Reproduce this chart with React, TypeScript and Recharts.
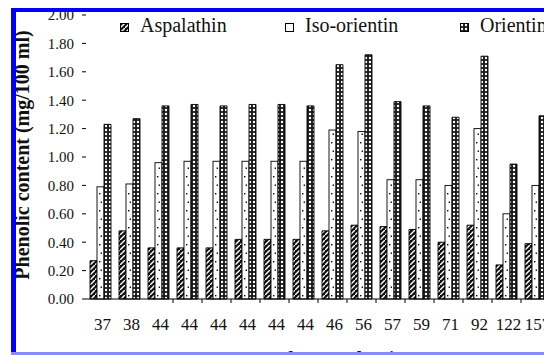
import React from "react";
import { Bar, BarChart, Label, Legend, XAxis, YAxis } from "recharts";

// values (mg/100 ml)
const days = ["37", "38", "44", "44", "44", "44", "44", "44", "46", "56", "57", "59", "71", "92", "122", "157"];
const aspalathin = [0.27, 0.48, 0.36, 0.36, 0.36, 0.42, 0.42, 0.42, 0.48, 0.52, 0.51, 0.49, 0.4, 0.52, 0.24, 0.39];
const isoOrientin = [0.79, 0.81, 0.96, 0.97, 0.97, 0.97, 0.97, 0.97, 1.19, 1.18, 0.84, 0.84, 0.8, 1.2, 0.6, 0.8];
const orientin = [1.23, 1.27, 1.36, 1.37, 1.36, 1.37, 1.37, 1.36, 1.65, 1.72, 1.39, 1.36, 1.28, 1.71, 0.95, 1.29];
const yTicks = [0, 0.2, 0.4, 0.6, 0.8, 1.0, 1.2, 1.4, 1.6, 1.8, 2.0];

const data = days.map((day, i) => ({
  day,
  aspalathin: aspalathin[i],
  isoOrientin: isoOrientin[i],
  orientin: orientin[i],
}));

const FONT = "Liberation Serif, DejaVu Serif, serif";
const W = 560;
const H = 375;
const Y_AXIS_W = 86;
const RIGHT = 10;
const band = (W - Y_AXIS_W - RIGHT) / days.length;

const swatch: Record<string, string> = {
  aspalathin: "url(#aspHatch)",
  isoOrientin: "#fff",
  orientin: "url(#oriCheck)",
};
const legendWidths = [165, 175, 120];

const IsoBar = (props: any) => {
  const { x, y, width, height } = props;
  const dots = [];
  let k = 0;
  for (let d = 4; d < height - 2; d += 8.5, k++) {
    dots.push(
      <rect key={k} x={x + width / 2 - 0.7 + (k % 2 ? 0.8 : -0.8)} y={y + height - d} width={1.4} height={1.4} fill="#000" />
    );
  }
  return (
    <g>
      <rect x={x} y={y} width={width} height={height} fill="#fff" stroke="#000" strokeWidth={0.9} />
      {dots}
    </g>
  );
};

const DayTick = (props: any) => {
  const { x, y, payload, index } = props;
  return (
    <g>
      <text x={x + 2} y={y + 27} textAnchor="middle" fontSize={17} fontFamily={FONT} fill="#111">
        {payload.value}
      </text>
      {index >= 2 && index < days.length - 1 && (
        <line x1={x + band / 2} x2={x + band / 2} y1={y - 4} y2={y} stroke="#000" />
      )}
    </g>
  );
};

const LegendContent = (props: any) => {
  const { payload } = props;
  return (
    <div style={{ display: "flex", fontFamily: FONT, fontSize: 20, color: "#111", whiteSpace: "nowrap" }}>
      {(payload || []).map((entry: any, i: number) => (
        <div key={entry.dataKey} style={{ width: legendWidths[i], display: "flex", alignItems: "baseline" }}>
          <svg width={9} height={9} style={{ marginRight: 11 }}>
            <rect x={0.5} y={0.5} width={8} height={8} fill={swatch[entry.dataKey]} stroke="#000" />
          </svg>
          <span>{entry.value}</span>
        </div>
      ))}
    </div>
  );
};

export default function App() {
  return (
    <div style={{ position: "absolute", left: 0, top: 0, width: 544, height: 355, overflow: "hidden", background: "#fff", fontFamily: FONT }}>
      <svg width={0} height={0} style={{ position: "absolute" }}>
        <defs>
          <pattern id="aspHatch" width={5} height={5} patternUnits="userSpaceOnUse">
            <rect width={5} height={5} fill="#111" />
            <path d="M-1,6 L6,-1" stroke="#fff" strokeWidth={1.4} />
          </pattern>
          <pattern id="oriCheck" width={4} height={4} patternUnits="userSpaceOnUse">
            <rect width={4} height={4} fill="#1a1a1a" />
            <circle cx={2} cy={2} r={1.2} fill="#fff" />
          </pattern>
        </defs>
      </svg>
      <BarChart
        width={W}
        height={H}
        data={data}
        margin={{ top: 15, right: RIGHT, left: 0, bottom: 0 }}
        barGap={0}
        barSize={7}
        style={{ position: "absolute", left: 0, top: 0, fontFamily: FONT }}
      >
        <XAxis
          dataKey="day"
          interval={0}
          height={76}
          tickLine={false}
          tickSize={4}
          tickMargin={0}
          tick={<DayTick />}
          axisLine={{ stroke: "#000" }}
        >
          <Label
            content={(p: any) => (
              <text
                x={p.viewBox.x + p.viewBox.width / 2 + 4}
                y={p.viewBox.y + 67}
                textAnchor="middle"
                fontSize={20}
                fontWeight="bold"
                fontFamily={FONT}
                fill="#111"
              >
                Days after production
              </text>
            )}
          />
        </XAxis>
        <YAxis
          width={Y_AXIS_W}
          domain={[0, 2]}
          ticks={yTicks}
          interval={0}
          axisLine={false}
          tickLine={{ stroke: "#000" }}
          tickSize={4}
          tickMargin={8}
          tickFormatter={(v: number) => v.toFixed(2)}
          tick={{ fontSize: 15, fontFamily: FONT, fill: "#111" }}
        >
          <Label
            content={(p: any) => (
              <text
                transform="rotate(-90)"
                x={-(p.viewBox.y + p.viewBox.height / 2 - 2)}
                y={29}
                textAnchor="middle"
                fontSize={20}
                fontWeight="bold"
                fontFamily={FONT}
                fill="#111"
              >
                Phenolic content (mg/100 ml)
              </text>
            )}
          />
        </YAxis>
        <Legend
          layout="horizontal"
          verticalAlign="middle"
          align="center"
          content={<LegendContent />}
          wrapperStyle={{ top: 14, left: 120, width: 460, height: 26 }}
        />
        <Bar dataKey="aspalathin" name="Aspalathin" fill="url(#aspHatch)" stroke="#000" strokeWidth={0.9} isAnimationActive={false} />
        <Bar dataKey="isoOrientin" name="Iso-orientin" fill="#fff" shape={(p: any) => <IsoBar {...p} />} isAnimationActive={false} />
        <Bar dataKey="orientin" name="Orientin" fill="url(#oriCheck)" stroke="#000" strokeWidth={0.9} isAnimationActive={false} />
      </BarChart>
      <div style={{ position: "absolute", left: 11, top: 8, width: 533, height: 4, background: "#0000ff" }} />
      <div style={{ position: "absolute", left: 11, top: 8, width: 5, height: 347, background: "#0000ff" }} />
      <div style={{ position: "absolute", left: 11, top: 352, width: 533, height: 3, background: "#8a8aff" }} />
    </div>
  );
}
